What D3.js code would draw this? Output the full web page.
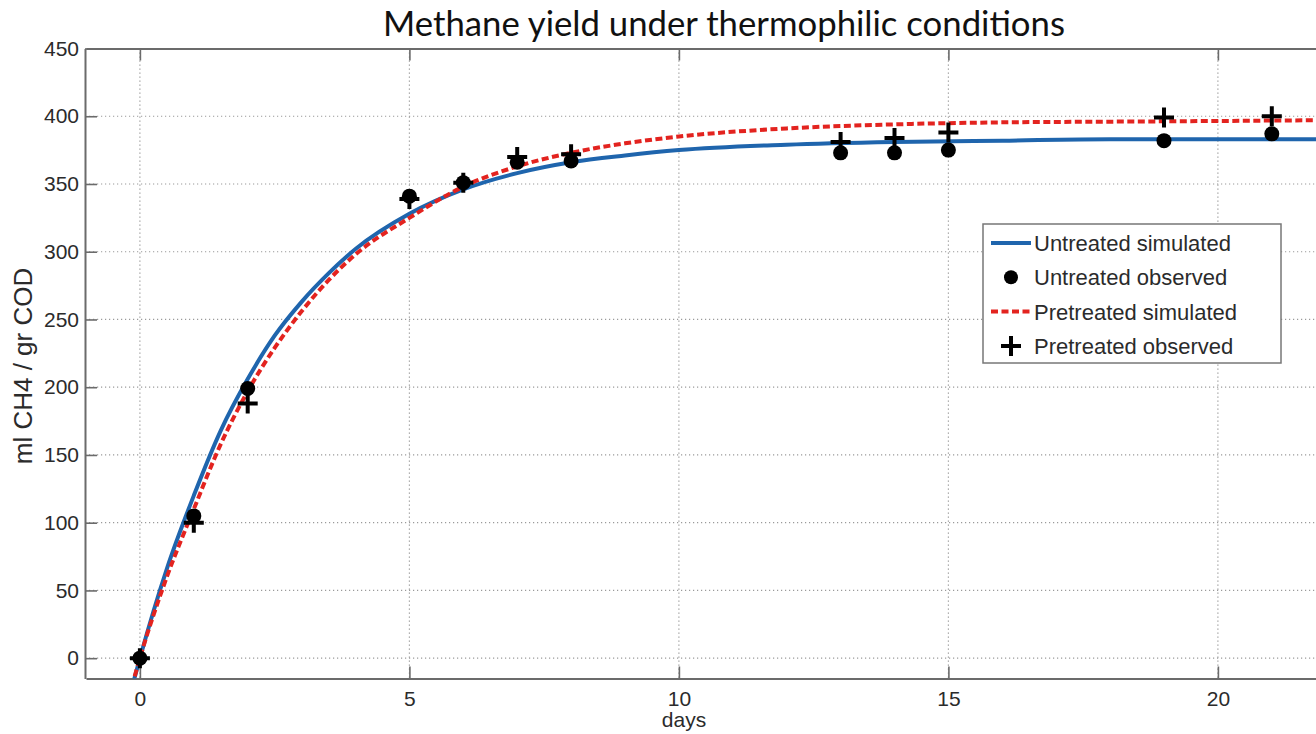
<!DOCTYPE html>
<html>
<head>
<meta charset="utf-8">
<script src="https://cdn.jsdelivr.net/npm/d3@7"></script>
<style>
  html, body { margin: 0; padding: 0; background: #fff; }
  svg { display: block; }
</style>
</head>
<body>
<svg id="chart" width="1316" height="734"></svg>
<script>
// Observation days and measured methane yields (ml CH4 / gr COD)
const obsDays = [0, 1, 2, 5, 6, 7, 8, 13, 14, 15, 19, 21];
const untreatedObserved = [0, 105, 199, 341, 351, 366, 367, 373, 373, 375, 382, 387];
const pretreatedObserved = [0, 100, 188, 339, 351, 370, 372, 381, 384, 388, 399, 400];

// Model output sampled along the time axis
const simDays = [-0.15, 0, 0.5, 1, 1.5, 2, 2.5, 3, 3.5, 4, 5, 6, 7, 8, 9, 10, 12, 14, 16, 18, 20, 22, 24];
const untreatedSimulated = [-22, 0, 66, 120, 168, 206, 238, 263, 284, 302, 328, 346, 358, 366, 371, 375, 379, 381, 382, 383, 383, 383, 383];
const pretreatedSimulated = [-21, 0, 60, 110, 158, 197, 229, 256, 279, 298, 325, 348, 363, 373, 380, 385, 391, 394, 395.5, 396, 396.5, 397, 397];

const xTicks = [0, 5, 10, 15, 20];
const yTicks = [0, 50, 100, 150, 200, 250, 300, 350, 400, 450];

const legendItems = [
  { label: "Untreated simulated", kind: "line" },
  { label: "Untreated observed", kind: "dot" },
  { label: "Pretreated simulated", kind: "dash" },
  { label: "Pretreated observed", kind: "plus" }
];

const BLUE = "#1f65ad";
const RED = "#e3231f";
const AXIS = "#6b6b6b";
const GRID = "#9a9a9a";
const TEXT = "#2b2b2b";

const svg = d3.select("#chart");
const plotLeft = 85, plotTop = 48.5, plotBottom = 678.5;

const x = d3.scaleLinear().domain([-1, 23]).range([86, 86 + 24 * 53.9]);
const y = d3.scaleLinear().domain([-15, 450]).range([plotBottom, plotTop]);
const plotRight = x(23);

// Title
const title = svg.append("text")
  .attr("x", 724).attr("y", 36)
  .attr("text-anchor", "middle")
  .style("font-family", "Lato, 'Open Sans', sans-serif")
  .style("font-size", "32px")
  .style("fill", "#111")
  .text("Methane yield under thermophilic conditions");
const tw = title.node().getComputedTextLength();
title.style("font-size", (32 * 682 / tw).toFixed(2) + "px");

// Clip region for the plotting area
svg.append("clipPath").attr("id", "plotArea")
  .append("rect").attr("x", plotLeft).attr("y", plotTop)
  .attr("width", plotRight - plotLeft).attr("height", plotBottom - plotTop);

// Dotted grid
const grid = svg.append("g").attr("stroke", GRID).attr("stroke-width", 1.2).attr("stroke-dasharray", "1.2,2.8");
grid.selectAll("line.gx").data(xTicks).join("line").attr("class", "gx")
  .attr("x1", d => x(d)).attr("x2", d => x(d)).attr("y1", plotTop).attr("y2", plotBottom);
grid.selectAll("line.gy").data(yTicks.filter(v => v < 450)).join("line").attr("class", "gy")
  .attr("x1", plotLeft).attr("x2", plotRight).attr("y1", d => y(d)).attr("y2", d => y(d));

// Axes (inward ticks, box style)
const tickLen = 12;
const axisStyle = g => {
  g.select(".domain").attr("stroke", AXIS).attr("stroke-width", 2);
  g.selectAll(".tick line").attr("stroke", AXIS).attr("stroke-width", 1.6);
  g.selectAll(".tick text")
    .style("font-family", "'Liberation Sans', Arial, sans-serif")
    .style("font-size", "21px").style("fill", TEXT);
};

svg.append("g").attr("transform", `translate(0,${plotBottom})`)
  .call(d3.axisBottom(x).tickValues(xTicks).tickSizeInner(-tickLen).tickSizeOuter(0).tickPadding(10))
  .call(axisStyle)
  .call(g => g.selectAll(".tick text").attr("dy", "0.85em"));

svg.append("g").attr("transform", `translate(0,${plotTop})`)
  .call(d3.axisTop(x).tickValues(xTicks).tickSizeInner(-tickLen).tickSizeOuter(0).tickFormat(""))
  .call(axisStyle);

svg.append("g").attr("transform", `translate(${plotLeft},0)`)
  .call(d3.axisLeft(y).tickValues(yTicks).tickSizeInner(-tickLen).tickSizeOuter(0).tickPadding(6))
  .call(axisStyle);

// Axis titles
svg.append("text")
  .attr("x", 684).attr("y", 727)
  .attr("text-anchor", "middle")
  .style("font-family", "'Liberation Sans', Arial, sans-serif")
  .style("font-size", "21px").style("fill", TEXT)
  .text("days");

svg.append("text")
  .attr("transform", `translate(32,366) rotate(-90)`)
  .attr("text-anchor", "middle")
  .style("font-family", "'Liberation Sans', Arial, sans-serif")
  .style("font-size", "26px").style("fill", TEXT)
  .text("ml CH4 / gr COD");

// Simulated curves
const plot = svg.append("g").attr("clip-path", "url(#plotArea)");
const line = d3.line().x(d => x(d[0])).y(d => y(d[1])).curve(d3.curveMonotoneX);

plot.append("path")
  .datum(d3.zip(simDays, untreatedSimulated))
  .attr("d", line).attr("fill", "none")
  .attr("stroke", BLUE).attr("stroke-width", 4);

plot.append("path")
  .datum(d3.zip(simDays, pretreatedSimulated))
  .attr("d", line).attr("fill", "none")
  .attr("stroke", RED).attr("stroke-width", 4).attr("stroke-dasharray", "7,3.5");

// Observed points
const plusPath = (cx, cy, s) => `M${cx - s},${cy}H${cx + s}M${cx},${cy - s}V${cy + s}`;

plot.selectAll("circle.obs").data(d3.zip(obsDays, untreatedObserved)).join("circle")
  .attr("class", "obs")
  .attr("cx", d => x(d[0])).attr("cy", d => y(d[1])).attr("r", 7.5).attr("fill", "#000");

plot.selectAll("path.plus").data(d3.zip(obsDays, pretreatedObserved)).join("path")
  .attr("class", "plus")
  .attr("d", d => plusPath(x(d[0]), y(d[1]), 10))
  .attr("stroke", "#000").attr("stroke-width", 4).attr("fill", "none");

// Legend
const lg = svg.append("g").attr("transform", "translate(983,224)");
lg.append("rect").attr("width", 298).attr("height", 139)
  .attr("fill", "#fff").attr("stroke", "#777").attr("stroke-width", 1.5);
const rowY = i => 19 + i * 34.3;
legendItems.forEach((item, i) => {
  const ry = rowY(i);
  if (item.kind === "line") {
    lg.append("line").attr("x1", 8).attr("x2", 48).attr("y1", ry).attr("y2", ry)
      .attr("stroke", BLUE).attr("stroke-width", 4);
  } else if (item.kind === "dash") {
    lg.append("line").attr("x1", 8).attr("x2", 48).attr("y1", ry).attr("y2", ry)
      .attr("stroke", RED).attr("stroke-width", 4).attr("stroke-dasharray", "7,3.5");
  } else if (item.kind === "dot") {
    lg.append("circle").attr("cx", 28).attr("cy", ry).attr("r", 7).attr("fill", "#000");
  } else {
    lg.append("path").attr("d", plusPath(28, ry, 10))
      .attr("stroke", "#000").attr("stroke-width", 4);
  }
  lg.append("text").attr("x", 51).attr("y", ry).attr("dy", "0.36em")
    .style("font-family", "'Liberation Sans', Arial, sans-serif")
    .style("font-size", "22px").style("fill", TEXT)
    .text(item.label);
});
</script>
</body>
</html>
